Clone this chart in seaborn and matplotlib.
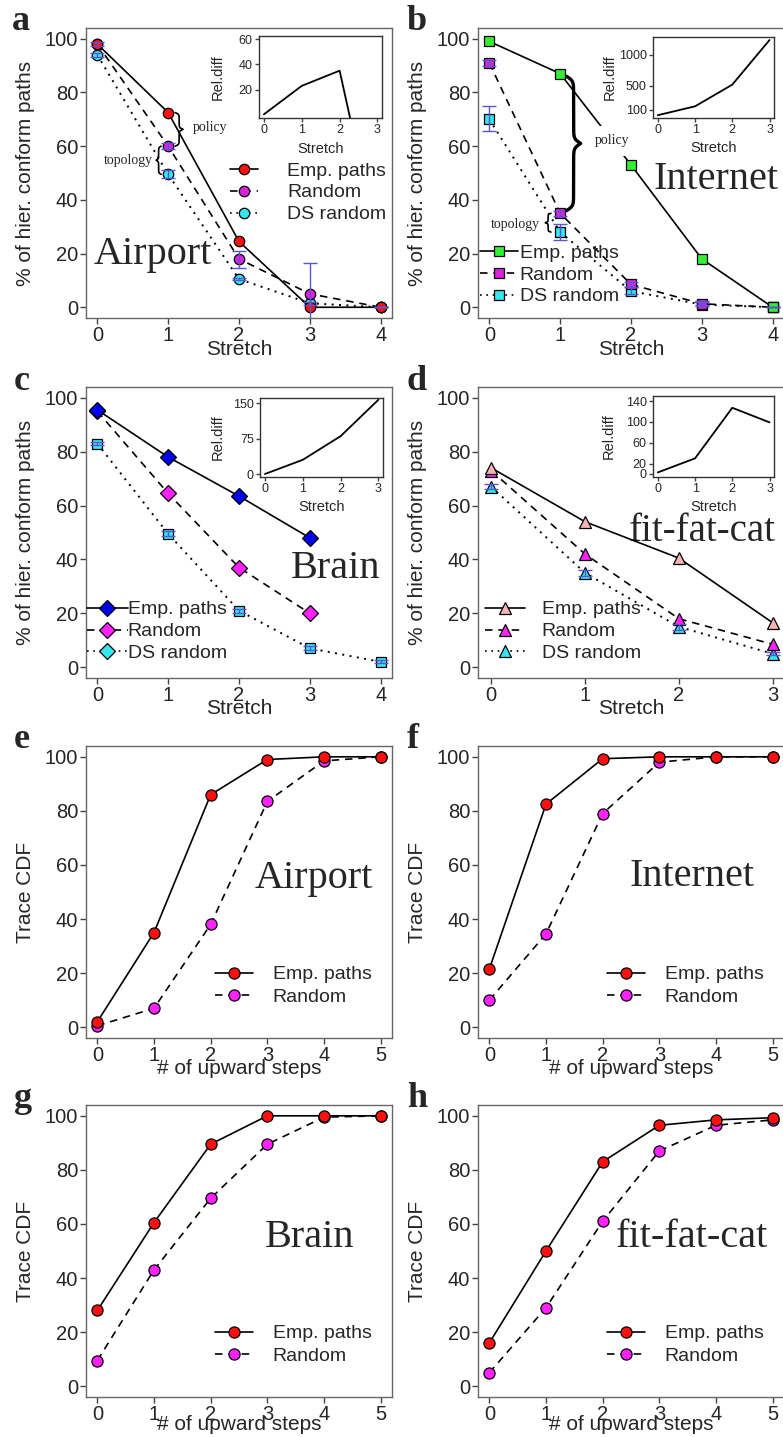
import numpy as np
import matplotlib
matplotlib.use("Agg")
import matplotlib.pyplot as plt
from matplotlib.lines import Line2D
import seaborn as sns

sns.set_style("ticks")
plt.rcParams['font.family'] = ['Liberation Sans', 'DejaVu Sans']

# ---------------- data ----------------
stretch_a = [0, 1, 2, 3, 4]
stretch_d = [0, 1, 2, 3]
inset_x = [0, 1, 2, 3]
steps = [0, 1, 2, 3, 4, 5]

# a: Airport
air_emp = [98, 72.5, 24.5, 0, 0]
air_rand = [98, 60, 18, 5, 0]
air_rand_lo = [97.3, 58.8, 14.5, -6.5, 0]
air_rand_hi = [98.7, 61.2, 21, 16.5, 0]
air_ds = [94, 49.5, 10.5, 1.5, 0]
air_ds_lo = [93.3, 48, 10, 1, 0]
air_ds_hi = [94.7, 51, 11, 2, 0]
air_rel = [0.5, 23, 35, -100]

# b: Internet
int_emp = [99, 87, 53, 18, 0]
int_rand = [91, 35, 8.5, 1.3, 0]
int_rand_lo = [90, 34, 7.5, 0.8, 0]
int_rand_hi = [92, 36, 9.5, 1.8, 0]
int_ds = [70, 28, 6, 1, 0]
int_ds_lo = [65.5, 25, 5, 0.3, 0]
int_ds_hi = [75, 31, 7.5, 2.5, 0]
int_rel = [15, 160, 515, 1245]

# c: Brain
brn_emp = [95.5, 78, 63.5, 48]
brn_rand = [95, 64.5, 37, 20]
brn_ds = [83, 49.5, 21, 7, 2]
brn_ds_lo = [82.3, 48.6, 20.3, 6.3, 1.4]
brn_ds_hi = [83.7, 50.4, 21.7, 7.7, 2.6]
brn_rel = [0, 30, 80, 157]

# d: fit-fat-cat
ffc_emp = [74, 54, 40.5, 16.5]
ffc_rand = [73, 42, 18, 8.5]
ffc_ds = [67, 35, 15, 5]
ffc_ds_lo = [66, 34, 14, 4.4]
ffc_ds_hi = [68, 36, 16, 5.6]
ffc_rel = [3, 30, 127, 99]

# e-h: Trace CDF
cdf_air_emp = [2, 35, 86, 99, 100, 100]
cdf_air_rand = [0.5, 7, 38, 83.5, 98.5, 100]
cdf_int_emp = [21.5, 82.5, 99.3, 100, 100, 100]
cdf_int_rand = [10, 34.5, 79, 98, 100, 100]
cdf_brn_emp = [28, 60.5, 89.5, 100, 100, 100]
cdf_brn_rand = [9.5, 43, 69.5, 89.5, 99.5, 100]
cdf_ffc_emp = [16, 50, 83, 96.5, 98.5, 99.3]
cdf_ffc_rand = [5, 29, 61, 87, 96.5, 98.5]

yticks_main = [0, 20, 40, 60, 80, 100]

# ---------------- styles ----------------
RED = "#ff1010"
MAG = "#e020e0"
MAG2 = "#ff22ff"
CYAN = "#33e6f0"
GREEN = "#33ee33"
BLUE = "#0000ee"
PINK = "#f6b4b4"
ERR = "#5a55d0"
SOLID = "-"
DASH = (0, (4.5, 3.5))
DOT = (0, (1, 2.8))

W, H = 783, 1437
fig = plt.figure(figsize=(W / 100, H / 100), dpi=100)
SERIF = ['Liberation Serif', 'DejaVu Serif']


def px_axes(l, t, r, b):
    return fig.add_axes([l / W, 1 - b / H, (r - l) / W, (b - t) / H])


def style_axes(ax, xlim, ylim, xticks, yticks, fs=14.5, tl=4.5, spine="#666666"):
    ax.set_xlim(*xlim)
    ax.set_ylim(*ylim)
    ax.set_xticks(xticks)
    ax.set_yticks(yticks)
    for s in ax.spines.values():
        s.set_visible(True)
        s.set_color(spine)
        s.set_linewidth(1.0)
    ax.tick_params(direction='out', length=tl, width=1, color='#444444',
                   labelsize=fs, pad=1.2)
    ax.set_facecolor('white')


def series(ax, x, y, color, ls, marker, ms, lw=1.2, z=3):
    sns.lineplot(x=x, y=y, ax=ax, color='black', linestyle=ls, lw=lw,
                 marker=marker, markersize=ms, markerfacecolor=color,
                 markeredgecolor='black', markeredgewidth=0.9,
                 zorder=z, errorbar=None, sort=False)


def errbars(ax, x, y, lo, hi):
    y = np.asarray(y, float)
    ax.errorbar(x, y, yerr=[y - np.asarray(lo), np.asarray(hi) - y],
                fmt='none', ecolor=ERR, elinewidth=1.0, capsize=5,
                capthick=1.0, zorder=4)


def brace(ax, xb, y0, y1, width, direction, lw=1.2, k=40):
    # curly brace from y0 to y1 with its base at xb, tip pointing by direction
    s = np.linspace(0, 0.5, 120)
    f = 1 / (1 + np.exp(-k * s)) + 1 / (1 + np.exp(-k * (s - 0.5))) - 0.5
    f = np.concatenate([f, f[-2::-1]])
    t = np.linspace(0, 1, len(f))
    ys = y0 + (y1 - y0) * t
    xs = xb + direction * width * f
    ax.plot(xs, ys, color='black', lw=lw, zorder=5, solid_capstyle='round')


def legend(ax, specs, anchor, hl, tp, sp=0.22, fs=14):
    handles = [Line2D([0], [0], color='black', linestyle=ls, lw=1.2, marker=m,
                      markersize=ms, markerfacecolor=c, markeredgecolor='black',
                      markeredgewidth=0.9) for (c, ls, m, ms, _) in specs]
    labels = [s[4] for s in specs]
    leg = ax.legend(handles, labels, loc='upper left', bbox_to_anchor=anchor,
                    frameon=False, fontsize=fs, handlelength=hl,
                    handletextpad=tp, borderpad=0, borderaxespad=0,
                    labelspacing=sp, numpoints=1)
    leg.set_zorder(6)


def labels(ax, xl, yl, xoff=-0.072):
    ax.set_xlabel(xl, fontsize=15)
    ax.set_ylabel(yl, fontsize=15)
    ax.xaxis.set_label_coords(0.5, xoff)
    ax.yaxis.set_label_coords(-0.167, 0.5)


def inset(l, t, r, b, vals, ylim, yticks, ylab_x):
    ax = px_axes(l, t, r, b)
    sns.lineplot(x=inset_x, y=vals, ax=ax, color='black', lw=1.3,
                 errorbar=None, sort=False)
    style_axes(ax, (-0.13, 3.12), ylim, inset_x, yticks, fs=9, tl=3,
               spine='#333333')
    ax.tick_params(pad=1.5)
    ax.set_xlabel('Stretch', fontsize=10.5)
    ax.set_ylabel('Rel.diff', fontsize=10.5)
    ax.xaxis.set_label_coords(0.5, -0.29)
    ax.yaxis.set_label_coords(ylab_x, 0.5)
    return ax


def panel_letter(x, base, s):
    fig.text(x / W, 1 - base / H, s, fontsize=26, fontweight='bold',
             family=SERIF, ha='left', va='baseline')


def name(ax, x, y, s, fs=29):
    ax.text(x, y, s, fontsize=fs, family=SERIF, ha='center', va='center',
            zorder=2)


YL = '% of hier. conform paths'

# ---------------- panel a ----------------
ax = px_axes(86, 28, 392, 318)
style_axes(ax, (-0.16, 4.16), (-4, 104), stretch_a, yticks_main)
series(ax, stretch_a, air_ds, CYAN, DOT, 'o', 7.5, lw=1.4)
series(ax, stretch_a, air_rand, MAG, DASH, 'o', 7.5)
series(ax, stretch_a, air_emp, RED, SOLID, 'o', 7.5)
errbars(ax, stretch_a, air_rand, air_rand_lo, air_rand_hi)
errbars(ax, stretch_a, air_ds, air_ds_lo, air_ds_hi)
brace(ax, 1.1, air_emp[1], air_rand[1], 0.11, +1)
brace(ax, 0.9, air_rand[1], air_ds[1], 0.07, -1)
ax.text(1.35, 67, 'policy', fontsize=10, family=SERIF, ha='left', va='center')
ax.text(0.79, 54.5, 'topology', fontsize=10, family=SERIF, ha='right', va='center')
name(ax, 0.78, 19.5, 'Airport')
legend(ax, [(RED, SOLID, 'o', 7.5, 'Emp. paths'), (MAG, DASH, 'o', 7.5, 'Random'),
            (CYAN, DOT, 'o', 7.5, 'DS random')], (0.471, 0.538), 1.45, 1.5)
ax.set_ylabel(YL, fontsize=15)
ax.yaxis.set_label_coords(-0.167, 0.5)
inset(259, 36, 382, 118, air_rel, (-2.4, 62.4), [20, 40, 60], -0.276)
panel_letter(12, 30, 'a')

# ---------------- panel b ----------------
ax = px_axes(478, 28, 784, 318)
style_axes(ax, (-0.16, 4.16), (-4, 104), stretch_a, yticks_main)
series(ax, stretch_a, int_ds, CYAN, DOT, 's', 7, lw=1.4)
series(ax, stretch_a, int_rand, MAG, DASH, 's', 7)
series(ax, stretch_a, int_emp, GREEN, SOLID, 's', 7)
errbars(ax, stretch_a, int_rand, int_rand_lo, int_rand_hi)
errbars(ax, stretch_a, int_ds, int_ds_lo, int_ds_hi)
brace(ax, 1.09, int_emp[1] - 1, int_rand[1] + 1, 0.2, +1, lw=2.4, k=60)
brace(ax, 0.87, int_rand[1], int_ds[1], 0.08, -1)
ax.text(1.49, 62, 'policy', fontsize=10, family=SERIF, ha='left', va='center',
        zorder=5, bbox=dict(facecolor='white', edgecolor='none', pad=6))
ax.text(0.71, 31, 'topology', fontsize=10, family=SERIF, ha='right', va='center')
name(ax, 3.2, 47.4, 'Internet')
legend(ax, [(GREEN, SOLID, 's', 7, 'Emp. paths'), (MAG, DASH, 's', 7, 'Random'),
            (CYAN, DOT, 's', 7, 'DS random')], (0.0065, 0.255), 1.95, 0.1)
ax.set_ylabel(YL, fontsize=15)
ax.yaxis.set_label_coords(-0.167, 0.5)
inset(653, 37, 774, 118, int_rel, (-31, 1294), [100, 500, 1000], -0.30)
panel_letter(407, 30, 'b')

# ---------------- panel c ----------------
ax = px_axes(86, 387, 392, 678)
style_axes(ax, (-0.16, 4.16), (-4, 104), stretch_a, yticks_main)
series(ax, stretch_a, brn_ds, CYAN, DOT, 's', 7, lw=1.4)
series(ax, stretch_d, brn_rand, MAG2, DASH, 'D', 8)
series(ax, stretch_d, brn_emp, BLUE, SOLID, 'D', 8)
errbars(ax, stretch_a, brn_ds, brn_ds_lo, brn_ds_hi)
name(ax, 3.37, 36.5, 'Brain')
legend(ax, [(BLUE, SOLID, 'D', 8, 'Emp. paths'), (MAG2, DASH, 'D', 8, 'Random'),
            (CYAN, DOT, 'D', 8, 'DS random')], (0.003, 0.265), 2.1, 0.0)
labels(ax, 'Stretch', YL)
inset(260, 398, 383, 477, brn_rel, (-6.3, 160.6), [0, 75, 150], -0.29)
panel_letter(14, 390, 'c')

# ---------------- panel d ----------------
ax = px_axes(478, 387, 784, 678)
style_axes(ax, (-0.14, 3.12), (-4, 104), stretch_d, yticks_main)
series(ax, stretch_d, ffc_ds, CYAN, DOT, '^', 9, lw=1.4)
series(ax, stretch_d, ffc_rand, MAG2, DASH, '^', 9)
series(ax, stretch_d, ffc_emp, PINK, SOLID, '^', 9)
errbars(ax, stretch_d, ffc_ds, ffc_ds_lo, ffc_ds_hi)
name(ax, 2.25, 50.3, 'fit-fat-cat', fs=28)
legend(ax, [(PINK, SOLID, '^', 9, 'Emp. paths'), (MAG2, DASH, '^', 9, 'Random'),
            (CYAN, DOT, '^', 9, 'DS random')], (0.023, 0.265), 2.05, 0.87)
labels(ax, 'Stretch', YL)
inset(653, 396, 774, 477, ffc_rel, (-5.8, 149.6), [0, 20, 60, 100, 140], -0.31)
panel_letter(407, 390, 'd')

# ---------------- panels e-h ----------------
cdf_panels = [
    ((86, 746, 392, 1038), cdf_air_emp, cdf_air_rand, 'Airport', (3.82, 55), 'e', (14, 748), -0.072),
    ((478, 746, 784, 1038), cdf_int_emp, cdf_int_rand, 'Internet', (3.58, 55.7), 'f', (407, 748), -0.072),
    ((86, 1105, 392, 1397), cdf_brn_emp, cdf_brn_rand, 'Brain', (3.75, 55), 'g', (14, 1107), -0.06),
    ((478, 1105, 784, 1397), cdf_ffc_emp, cdf_ffc_rand, 'fit-fat-cat', (3.58, 55), 'h', (407, 1107), -0.06),
]
for box, emp, rnd, nm, pos, let, lpos, xoff in cdf_panels:
    ax = px_axes(*box)
    style_axes(ax, (-0.2, 5.2), (-4, 104), steps, yticks_main)
    series(ax, steps, rnd, MAG2, DASH, 'o', 8)
    series(ax, steps, emp, RED, SOLID, 'o', 8)
    name(ax, pos[0], pos[1], nm)
    legend(ax, [(RED, SOLID, 'o', 8, 'Emp. paths'), (MAG2, DASH, 'o', 8, 'Random')],
           (0.42, 0.247), 2.0, 1.0, sp=0.25)
    labels(ax, '# of upward steps', 'Trace CDF', xoff)
    panel_letter(lpos[0], lpos[1], let)

# row-1 x labels "Stretch" (placed between the rows)
for xc in (239, 631):
    fig.text(xc / W, 1 - 340 / H, 'Stretch', fontsize=15, ha='center', va='top')

fig.savefig('out.png', dpi=100)
